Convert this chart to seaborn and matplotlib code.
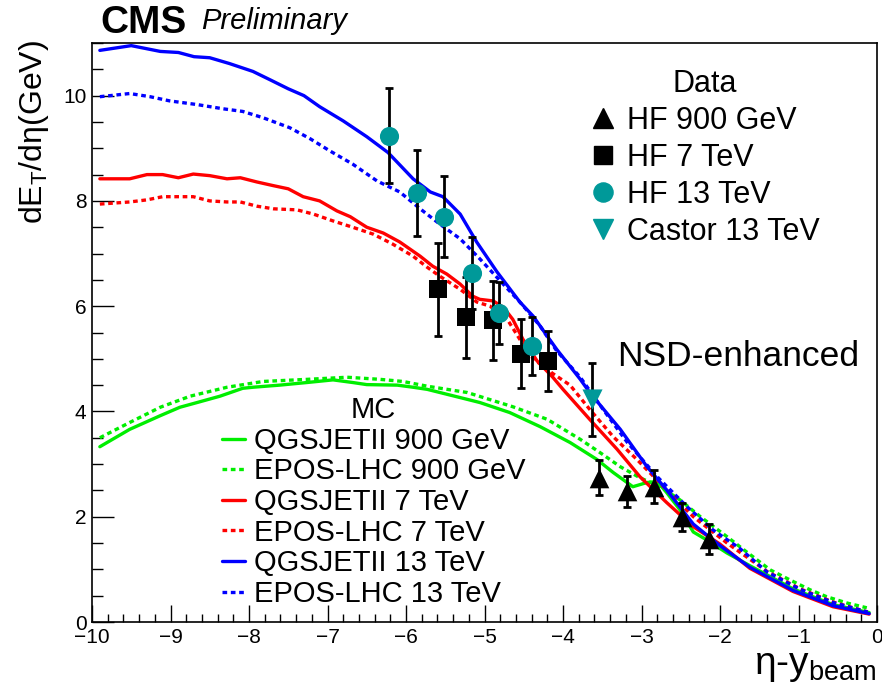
import matplotlib
matplotlib.use("Agg")
import matplotlib.pyplot as plt
from matplotlib.lines import Line2D
from matplotlib.ticker import MultipleLocator
import numpy as np
import pandas as pd
import seaborn as sns

# ---- MC predictions ----
qgs13_x = [-9.9, -9.5, -9.13, -8.9, -8.7, -8.5, -8.25, -7.95, -7.73, -7.5, -7.3, -7.1, -6.8, -6.5, -6.23,
           -5.91, -5.69, -5.53, -5.31, -5.1, -4.84, -4.55, -4.38, -4.2, -4.08, -3.78, -3.66, -3.27, -2.93,
           -2.68, -2.34, -2.0, -1.62, -1.07, -0.56, -0.1]
qgs13_y = [10.86, 10.95, 10.84, 10.82, 10.74, 10.72, 10.61, 10.46, 10.30, 10.13, 10.0, 9.79, 9.52, 9.22, 8.92,
           8.42, 8.17, 8.08, 7.75, 7.22, 6.65, 6.08, 5.81, 5.43, 5.18, 4.61, 4.36, 3.66, 2.95,
           2.51, 1.86, 1.45, 1.04, 0.6, 0.31, 0.16]

epos13_x = [-9.9, -9.77, -9.52, -9.26, -9.01, -8.66, -8.33, -8.08, -7.82, -7.48, -7.22, -6.97, -6.68, -6.37,
            -6.08, -5.82, -5.57, -5.31, -5.06, -4.80, -4.55, -4.29, -4.08, -3.78, -3.49, -3.18, -2.80, -2.42,
            -2.09, -1.75, -1.40, -0.98, -0.56, -0.12]
epos13_y = [9.98, 10.0, 10.04, 9.98, 9.90, 9.83, 9.75, 9.70, 9.58, 9.39, 9.18, 8.95, 8.70, 8.38,
            8.17, 7.85, 7.56, 7.28, 6.90, 6.48, 6.08, 5.62, 5.15, 4.65, 4.04, 3.41, 2.76, 2.19,
            1.75, 1.40, 0.95, 0.62, 0.37, 0.19]

qgs7_x = [-9.9, -9.52, -9.3, -9.1, -8.9, -8.71, -8.5, -8.28, -8.11, -7.9, -7.69, -7.5, -7.31, -7.1, -6.88,
          -6.71, -6.5, -6.29, -6.08, -5.82, -5.66, -5.48, -5.31, -5.15, -5.06, -4.89, -4.76, -4.64, -4.51,
          -4.33, -4.13, -4.0, -3.66, -3.31, -3.02, -2.68, -2.34, -2.0, -1.62, -1.07, -0.56, -0.1]
qgs7_y = [8.42, 8.42, 8.50, 8.50, 8.44, 8.51, 8.48, 8.42, 8.44, 8.36, 8.29, 8.23, 8.08, 8.0, 7.81,
          7.70, 7.50, 7.39, 7.22, 6.95, 6.76, 6.61, 6.42, 6.19, 6.13, 6.10, 5.98, 5.75, 5.37,
          4.96, 4.65, 4.42, 3.85, 3.28, 2.76, 2.27, 1.81, 1.48, 1.02, 0.58, 0.29, 0.15]

epos7_x = [-9.9, -9.52, -9.3, -9.1, -8.88, -8.71, -8.5, -8.28, -8.11, -7.9, -7.69, -7.39, -7.18, -6.93, -6.68,
           -6.42, -6.17, -5.91, -5.73, -5.57, -5.31, -5.10, -4.93, -4.71, -4.55, -4.38, -4.13, -3.91, -3.66,
           -3.36, -3.06, -2.68, -2.34, -1.91, -1.40, -0.98, -0.56, -0.12]
epos7_y = [7.94, 7.98, 8.02, 8.08, 8.08, 8.08, 8.0, 7.98, 7.98, 7.90, 7.85, 7.83, 7.75, 7.62, 7.50,
           7.37, 7.18, 6.95, 6.74, 6.57, 6.32, 6.08, 6.0, 5.75, 5.37, 5.0, 4.72, 4.50, 4.04,
           3.52, 3.09, 2.51, 2.0, 1.50, 0.96, 0.63, 0.38, 0.19]

qgs900_x = [-9.9, -9.52, -9.13, -8.88, -8.66, -8.37, -8.08, -7.95, -7.61, -7.26, -6.93, -6.68, -6.50, -6.11,
            -5.91, -5.73, -5.22, -5.06, -4.68, -4.29, -3.91, -3.57, -3.36, -3.11, -2.93, -2.80, -2.68, -2.51,
            -2.34, -2.17, -1.91, -1.62, -1.07, -0.56, -0.1]
qgs900_y = [3.33, 3.66, 3.92, 4.08, 4.17, 4.29, 4.44, 4.46, 4.50, 4.55, 4.60, 4.55, 4.51, 4.50,
            4.46, 4.42, 4.23, 4.17, 3.98, 3.71, 3.41, 3.09, 2.84, 2.57, 2.65, 2.67, 2.46, 2.13,
            1.71, 1.56, 1.31, 1.07, 0.63, 0.33, 0.18]

epos900_x = [-9.9, -9.52, -9.13, -8.75, -8.28, -7.82, -7.26, -6.75, -6.33, -6.04, -5.73, -5.22, -4.64, -4.20,
             -3.78, -3.53, -3.27, -3.02, -2.76, -2.51, -2.25, -1.91, -1.66, -1.36, -1.11, -0.85, -0.64,
             -0.38, -0.13]
epos900_y = [3.50, 3.79, 4.08, 4.29, 4.46, 4.57, 4.61, 4.65, 4.61, 4.57, 4.48, 4.36, 4.09, 3.85,
             3.47, 3.22, 2.95, 2.74, 2.57, 2.32, 2.0, 1.62, 1.33, 0.99, 0.80, 0.61, 0.48,
             0.36, 0.27]

# ---- measurements ----
hf900_x = [-3.54, -3.18, -2.84, -2.48, -2.14]
hf900_y = [2.74, 2.48, 2.57, 2.00, 1.58]
hf900_err = [0.33, 0.30, 0.31, 0.27, 0.28]

hf7_x = [-5.59, -5.24, -4.89, -4.54, -4.19]
hf7_y = [6.32, 5.79, 5.73, 5.10, 4.95]
hf7_err = [0.88, 0.77, 0.75, 0.65, 0.57]

hf13_x = [-6.22, -5.86, -5.52, -5.16, -4.82, -4.39]
hf13_y = [9.24, 8.15, 7.70, 6.63, 5.87, 5.24]
hf13_err = [0.90, 0.82, 0.77, 0.68, 0.59, 0.55]

castor_x = [-3.63]
castor_y = [4.23]
castor_err = [0.70]

BLUE, RED, GREEN, TEAL = "#0000ff", "#ff0000", "#00ee00", "#009999"
DOT = (0, (1.4, 1.1))

sns.set_style("white")
plt.rcParams['font.family'] = ['Liberation Sans', 'DejaVu Sans']
plt.rcParams['mathtext.fontset'] = 'custom'
plt.rcParams['mathtext.rm'] = 'Liberation Sans'
plt.rcParams['mathtext.it'] = 'Liberation Sans:italic'
for key in ['text.color', 'axes.labelcolor', 'xtick.color', 'ytick.color', 'axes.edgecolor']:
    plt.rcParams[key] = 'black'

fig = plt.figure(figsize=(8.82, 6.95), dpi=100)
ax = fig.add_axes([92 / 882, 73 / 695, 785 / 882, 579 / 695])

mc = [
    (qgs900_x, qgs900_y, GREEN, '-', 'QGSJETII 900 GeV'),
    (epos900_x, epos900_y, GREEN, DOT, 'EPOS-LHC 900 GeV'),
    (qgs7_x, qgs7_y, RED, '-', 'QGSJETII 7 TeV'),
    (epos7_x, epos7_y, RED, DOT, 'EPOS-LHC 7 TeV'),
    (qgs13_x, qgs13_y, BLUE, '-', 'QGSJETII 13 TeV'),
    (epos13_x, epos13_y, BLUE, DOT, 'EPOS-LHC 13 TeV'),
]
mc_handles = []
for xs, ys, col, ls, lab in mc:
    sns.lineplot(x=xs, y=ys, ax=ax, color=col, linestyle=ls, linewidth=2.4,
                 estimator=None, sort=False)
    mc_handles.append(Line2D([], [], color=col, linestyle=ls, linewidth=2.4, label=lab))

data = [
    (hf900_x, hf900_y, hf900_err, '^', 'black', 200, 'HF 900 GeV'),
    (hf7_x, hf7_y, hf7_err, 's', 'black', 150, 'HF 7 TeV'),
    (hf13_x, hf13_y, hf13_err, 'o', TEAL, 190, 'HF 13 TeV'),
    (castor_x, castor_y, castor_err, 'v', TEAL, 210, 'Castor 13 TeV'),
]
data_handles = []
for xs, ys, es, mk, col, s, lab in data:
    ax.errorbar(xs, ys, yerr=es, fmt='none', ecolor='black', elinewidth=2,
                capsize=3, capthick=2, zorder=4)
    sns.scatterplot(x=xs, y=ys, ax=ax, marker=mk, color=col, s=s, linewidth=0, zorder=5)
    data_handles.append(Line2D([], [], marker=mk, color=col, linestyle='none',
                               markersize=np.sqrt(s), label=lab))

ax.set_xlim(-10, 0)
ax.set_ylim(0, 11)
ax.xaxis.set_major_locator(MultipleLocator(1))
ax.xaxis.set_minor_locator(MultipleLocator(0.2))
ax.yaxis.set_major_locator(MultipleLocator(2))
ax.yaxis.set_minor_locator(MultipleLocator(0.5))
ax.tick_params(axis='both', which='both', direction='in', bottom=True, left=True,
               top=False, right=False, labelsize=15, pad=4, color='black', width=1)
ax.tick_params(axis='y', which='major', length=16)
ax.tick_params(axis='y', which='minor', length=8)
ax.tick_params(axis='x', which='major', length=12)
ax.tick_params(axis='x', which='minor', length=6)
for sp in ax.spines.values():
    sp.set_color('black')
    sp.set_linewidth(1.2)

ax.set_ylabel(r'dE$_\mathrm{T}$/dη(GeV)', fontsize=23, loc='top')
ax.yaxis.set_label_coords(-0.052, 1.005)
ax.set_xlabel(r'η-y$_\mathrm{beam}$', fontsize=28, loc='right')
ax.xaxis.set_label_coords(1.0, -0.045)

fig.text(100 / 882, 1 - 33 / 695, 'CMS', fontsize=28, fontweight='bold', ha='left', va='baseline')
fig.text(201 / 882, 1 - 29 / 695, 'Preliminary', fontsize=21, fontstyle='italic', ha='left', va='baseline')
ax.text(-3.31, 5.05, 'NSD-enhanced', fontsize=25.5, ha='left', va='center')

leg1 = ax.legend(handles=data_handles, title='Data', loc='upper left', frameon=False,
                 bbox_to_anchor=(0.635, 0.955), fontsize=22, title_fontsize=22,
                 handlelength=0.8, handletextpad=0.4, labelspacing=0.23, borderpad=0,
                 borderaxespad=0)
ax.add_artist(leg1)
ax.legend(handles=mc_handles, title='MC', loc='upper left', frameon=False,
          bbox_to_anchor=(0.165, 0.39), fontsize=21, title_fontsize=21,
          handlelength=0.8, handletextpad=0.3, labelspacing=0.09, borderpad=0,
          borderaxespad=0)

fig.savefig('out.png', dpi=100)
